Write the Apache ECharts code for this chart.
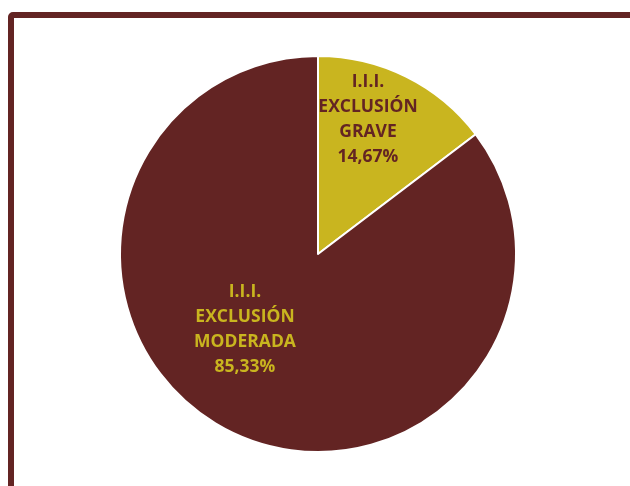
<!DOCTYPE html>
<html>
<head>
<meta charset="utf-8">
<script src="https://cdn.jsdelivr.net/npm/echarts@6/dist/echarts.min.js"></script>
<style>html,body{margin:0;padding:0;background:#fff;}#c{width:630px;height:486px;}</style>
</head>
<body>
<div id="c"></div>
<script>
var categories = ['I.I.I.\nEXCLUSIÓN\nGRAVE', 'I.I.I.\nEXCLUSIÓN\nMODERADA'];
var values = [14.67, 85.33];
var sliceColors = ['#C9B51F', '#632423'];
var labelColors = ['#632423', '#C9B51F'];
var labelPos = [[368, 120], [245, 330]];

var chart = echarts.init(document.getElementById('c'), null, {renderer: 'canvas'});
chart.setOption({
  animation: false,
  backgroundColor: '#ffffff',
  graphic: [{
    type: 'rect',
    shape: {x: 11, y: 15, width: 800, height: 700, r: 2},
    style: {fill: 'none', stroke: '#632423', lineWidth: 6}
  }],
  series: [{
    type: 'pie',
    center: [318, 254],
    radius: [0, 198],
    startAngle: 90,
    clockwise: true,
    data: categories.map(function (n, i) {
      return {
        name: n, value: values[i],
        itemStyle: {color: sliceColors[i]},
        label: {color: labelColors[i]}
      };
    }),
    itemStyle: {borderColor: '#ffffff', borderWidth: 2},
    label: {
      show: true,
      position: 'inside',
      fontFamily: 'Open Sans',
      fontWeight: 'bold',
      fontSize: 17.5,
      lineHeight: 25,
      align: 'center',
      formatter: function (p) {
        return p.name + '\n' + p.value.toFixed(2).replace('.', ',') + '%';
      }
    },
    labelLine: {show: false},
    labelLayout: function (p) {
      var pos = labelPos[p.dataIndex];
      return {x: pos[0], y: pos[1], align: 'center', verticalAlign: 'middle'};
    },
    emphasis: {disabled: true}
  }]
});
</script>
</body>
</html>
